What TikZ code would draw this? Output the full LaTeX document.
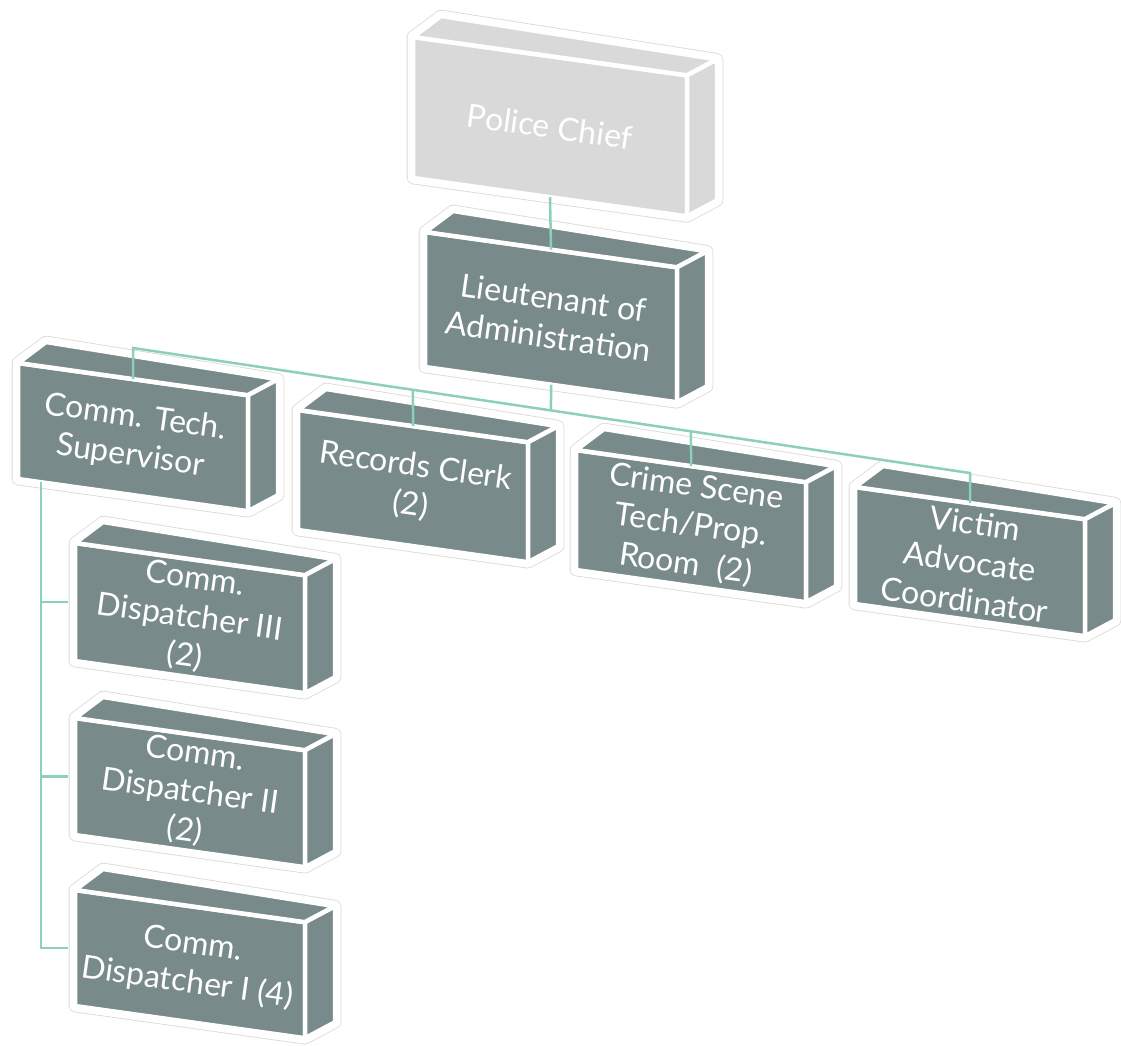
\documentclass[tikz,border=0pt]{standalone}
\usepackage{fontspec}
\setmainfont{Lato}
\usetikzlibrary{calc}

\definecolor{boxgray}{RGB}{120,138,138}
\definecolor{chiefgray}{RGB}{217,217,217}
\definecolor{linkgreen}{RGB}{140,208,186}

\tikzset{
  rim/.style={draw=gray!30, line width=0.8pt, double=white, double distance=11pt, line join=round},
  face/.style={draw=white, line width=4.5pt, line join=round},
  lbl/.style={text=white, align=center, rotate=-8, inner sep=0pt, font=\fontsize{32}{39}\selectfont},
  link/.style={draw=linkgreen, line width=2.5pt},
}

% Box: #1 name, #2 top-left of front face, #3 width, #4 height, #5 fill, #6 text
\newcommand{\cuboid}[6]{%
  \coordinate (#1-tl) at #2;
  \coordinate (#1-tr) at ([shift={(#3,0.14*#3)}]#1-tl);
  \coordinate (#1-bl) at ([shift={(0,#4)}]#1-tl);
  \coordinate (#1-br) at ([shift={(0,#4)}]#1-tr);
  \coordinate (#1-btl) at ([shift={(28,-21)}]#1-tl);
  \coordinate (#1-btr) at ([shift={(30,-16)}]#1-tr);
  \coordinate (#1-bbr) at ([shift={(30,-16)}]#1-br);
  \coordinate (#1-tm) at ($(#1-tl)!.5!(#1-tr)$);
  \coordinate (#1-bm) at ($(#1-bl)!.5!(#1-br)$);
  \coordinate (#1-lm) at ($(#1-tl)!.5!(#1-bl)$);
  \coordinate (#1-c) at ($(#1-tl)!.5!(#1-br)$);
  % Outer white rim with its thin shadow edge
  \path[rim] (#1-tl) -- (#1-btl) -- (#1-btr) -- (#1-bbr) -- (#1-br) -- (#1-bl) -- cycle;
  % Front, top and side faces
  \draw[face, fill=#5] (#1-tl) -- (#1-tr) -- (#1-br) -- (#1-bl) -- cycle;
  \draw[face, fill=#5] (#1-tl) -- (#1-btl) -- (#1-btr) -- (#1-tr) -- cycle;
  \draw[face, fill=#5] (#1-tr) -- (#1-btr) -- (#1-bbr) -- (#1-br) -- cycle;
  \node[lbl] (#1lbl) at (#1-c) {#6};
}

\begin{document}
\begin{tikzpicture}[x=1pt, y=-1pt]
\useasboundingbox (0,0) rectangle (1121,1045);
% Top of the chart
\cuboid{chief}{(413,37)}{274}{141}{chiefgray}{Police Chief}
\cuboid{lt}{(425,232)}{252}{135}{boxgray}{Lieutenant of\\Administration}
% Second row
\cuboid{cts}{(18,363)}{230}{116}{boxgray}{Comm. Tech.\\Supervisor}
\cuboid{rec}{(298,410)}{230}{120}{boxgray}{Records Clerk\\(2)}
\cuboid{cst}{(576,450)}{230}{120}{boxgray}{Crime Scene\\Tech/Prop.\\Room~~(2)}
\cuboid{vac}{(855,487)}{230}{117}{boxgray}{Victim\\Advocate\\Coordinator}
% Dispatchers under the supervisor
\cuboid{d3}{(75,543)}{230}{118}{boxgray}{Comm.\\Dispatcher III\\(2)}
\cuboid{d2}{(75,718)}{230}{117}{boxgray}{Comm.\\Dispatcher II\\(2)}
\cuboid{d1}{(75,890)}{230}{116}{boxgray}{Comm.\\Dispatcher I (4)}
% Bus line across the second row
\coordinate (busL) at (133,348);
\coordinate (busR) at (970,473);
\coordinate (busLt) at (intersection of busL--busR and lt-bm--lt-c);
\coordinate (busRec) at (intersection of busL--busR and rec-tm--rec-c);
\coordinate (busCst) at (intersection of busL--busR and cst-tm--cst-c);
\coordinate (cts-sub) at ($(cts-bl)!.1!(cts-br)$);
% Links
\draw[link] (chief-bm) -- (lt-tm);
\draw[link] (lt-bm) -- (busLt);
\draw[link] (cts-tm) -- (busL) -- (busR) -- (vac-tm);
\draw[link] (busRec) -- (rec-tm);
\draw[link] (busCst) -- (cst-tm);
\draw[link] (cts-sub) |- ([xshift=-7pt]d1-lm);
\draw[link] (cts-sub |- d3-lm) -- ([xshift=-7pt]d3-lm);
\draw[link] (cts-sub |- d2-lm) -- ([xshift=-7pt]d2-lm);
\end{tikzpicture}
\end{document}
